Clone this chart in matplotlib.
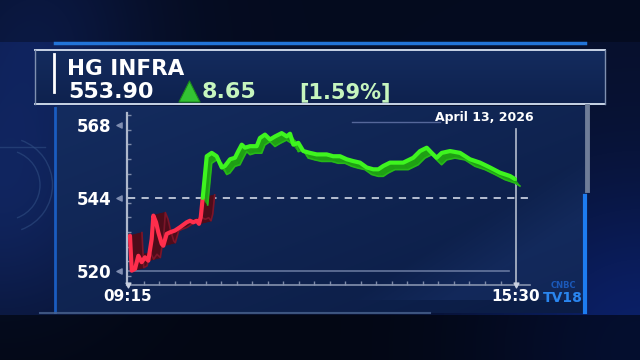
import numpy as np
import matplotlib
matplotlib.use('Agg')
import matplotlib.pyplot as plt
from matplotlib.patches import Polygon, Arc
from matplotlib.ticker import MultipleLocator

# price path: minutes after 09:15 and price
red_t = [1.9, 3.6, 6.8, 10.0, 13.2, 16.4, 19.6, 22.9, 24.5, 27.1, 29.3, 32.6, 34.1,
         37.4, 40.6, 45.4, 50.3, 56.7, 59.9, 63.1, 66.4, 68.6, 70.3, 72.2]
red_v = [531.6, 520.1, 520.7, 525.0, 522.9, 524.5, 523.4, 530.5, 538.2, 536.0, 532.7,
         528.9, 528.3, 532.2, 532.7, 533.3, 534.4, 536.0, 536.5, 536.0, 536.5, 535.5,
         537.7, 544.0]
green_t = [72.2, 76.1, 80.9, 85.7, 90.6, 93.7, 98.6, 103.4, 106.6, 109.9, 113.1, 117.9,
           124.4, 127.5, 132.4, 137.2, 142.1, 148.5, 153.4, 156.6, 159.8, 164.6, 169.4,
           175.9, 182.4, 192.0, 198.3, 204.9, 211.4, 217.7, 224.2, 230.7, 237.1, 241.9,
           246.7, 253.2, 266.0, 275.7, 282.2, 288.7, 293.5, 298.3, 303.2, 311.2, 320.9,
           330.5, 340.2, 349.9, 359.5, 369.2, 374.0]
green_v = [544.0, 557.7, 558.8, 557.7, 554.0, 554.5, 556.7, 557.2, 559.4, 561.5, 560.5,
           561.0, 561.0, 563.7, 564.8, 563.2, 564.2, 565.3, 564.2, 565.1, 561.5, 562.1,
           559.4, 558.8, 558.3, 558.3, 557.7, 557.7, 556.7, 556.1, 555.6, 554.0, 553.4,
           553.4, 554.5, 555.6, 555.6, 557.2, 559.4, 560.5, 558.8, 557.2, 558.8, 559.4,
           558.8, 556.7, 555.6, 554.0, 552.3, 551.2, 550.2]
prev_close = 544
y_ticks = [520, 544, 568]
x_ticks = [0, 375]
x_labels = ['09:15', '15:30']
name = 'HG INFRA'
last_price = '553.90'
change = '8.65'
change_pct = '[1.59%]'
date_label = 'April 13, 2026'

plt.rcParams['font.family'] = ['DejaVu Sans']
fig = plt.figure(figsize=(6.4, 3.6), dpi=100)

# ---- background (pixel coords) ----
H, W = 360, 640
yy, xx = np.mgrid[0:H, 0:W].astype(float)


def glow(cx, cy, r, col):
    d = np.exp(-((xx - cx) ** 2 + (yy - cy) ** 2) / (2 * r * r))
    return d[..., None] * np.array(col) / 255


img = np.empty((H, W, 3))
img[:] = np.array([7, 16, 44]) / 255
img += glow(0, 190, 100, (9, 20, 48))
img += glow(40, 10, 80, (6, 14, 38))
img += glow(640, 350, 120, (4, 16, 60))
img[yy < 42] *= 0.7
low = yy > 314
img[low] = img[low] * 0.45
# chart panel
pan = (xx >= 55) & (xx <= 586) & (yy >= 106) & (yy <= 312)
grad = (0.5 * (xx - 55) / 531 + 0.5 * (yy - 106) / 206)[..., None]
pcol = (np.array([20, 44, 95]) * (1 - grad) + np.array([11, 28, 68]) * grad) / 255
img[pan] = pcol[pan]
# soft diagonal light in lower right of the plot
diag = np.clip(((xx - 330) * 0.6 - (310 - yy)) / 60, 0, 1) * pan * (yy < 300)
img += diag[..., None] * np.array([6, 10, 18]) / 255
# title box
tb = (xx >= 35) & (xx <= 605) & (yy >= 50) & (yy <= 104)
tg = ((yy - 50) / 54)[..., None]
tcol = (np.array([20, 44, 94]) * (1 - tg) + np.array([14, 33, 78]) * tg) / 255
img[tb] = tcol[tb]
img = np.clip(img, 0, 1)

bg = fig.add_axes([0, 0, 1, 1])
bg.imshow(img, extent=(0, 640, 360, 0), aspect='auto')
bg.set_xlim(0, 640)
bg.set_ylim(360, 0)
bg.axis('off')

# frame decoration
bg.plot([55, 585], [43, 43], color='#2274d8', lw=2.5)
bg.plot([35, 605], [50, 50], color='#c9d4e6', lw=1.4)
bg.plot([35, 605], [104, 104], color='#c9d4e6', lw=1.4)
bg.plot([35, 35], [50, 104], color='#7f90b0', lw=1)
bg.plot([605, 605], [50, 104], color='#7f90b0', lw=1)
bg.plot([54, 54], [54, 92], color='white', lw=2)
bg.plot([55, 55], [108, 312], color='#1a5cc0', lw=2)
bg.plot([587, 587], [106, 190], color='#6f7d98', lw=3.5)
bg.plot([585, 585], [196, 312], color='#1d7cf0', lw=3)
bg.plot([40, 430], [313, 313], color='#4a6490', lw=1.5, alpha=0.8)
for r in (70, 95):
    bg.add_patch(Arc((5, 185), r, r, theta1=-70, theta2=70, color='#2f4d82', lw=1, alpha=0.6))
bg.plot([0, 45], [147, 147], color='#2f4d82', lw=1, alpha=0.6)

# header text
bg.text(67, 75, name, color='white', fontsize=15.5, fontweight='bold', va='baseline')
bg.text(68, 98, last_price, color='white', fontsize=16, fontweight='bold', va='baseline')
bg.scatter([189], [91], marker='^', s=230, color='#33c233', edgecolor='#1b8a1b', lw=0.8)
bg.text(202, 98, change, color='#c6f5be', fontsize=16, fontweight='bold', va='baseline')
bg.text(299, 98, change_pct, color='#c6f5be', fontsize=15, fontweight='bold', va='baseline')
bg.text(563, 285, 'CNBC', color='#1b58b8', fontsize=6, fontweight='bold', ha='center', va='center')
bg.text(563, 298, 'TV18', color='#2a86f0', fontsize=10, fontweight='bold', ha='center', va='center')

# ---- price chart ----
x0, x1 = -0.97, 388.5
y0, y1 = 515.4, 571.9
ax = fig.add_axes([127 / 640, 1 - 285 / 360, (530 - 127) / 640, (285 - 113) / 360])
ax.set_facecolor('none')
ax.set_xlim(x0, x1)
ax.set_ylim(y0, y1)
for s in ('top', 'right'):
    ax.spines[s].set_visible(False)
ax.spines['left'].set_color('#aeb8cc')
ax.spines['left'].set_linewidth(1.6)
ax.spines['bottom'].set_color('#8592ae')
ax.spines['bottom'].set_linewidth(1.2)

ax.set_yticks(y_ticks)
ax.set_yticklabels([str(v) for v in y_ticks])
ax.set_xticks(x_ticks)
ax.set_xticklabels(x_labels)
ax.tick_params(axis='y', length=0, pad=11, labelsize=12, labelcolor='white')
ax.tick_params(axis='x', length=0, pad=3, labelsize=11, labelcolor='white')
for lab in ax.get_xticklabels() + ax.get_yticklabels():
    lab.set_fontweight('bold')
ax.yaxis.set_minor_locator(MultipleLocator(4.8))
ax.xaxis.set_minor_locator(MultipleLocator(15))
ax.tick_params(which='minor', direction='in', length=3, color='#7d8aa8', width=1)

ax.plot([0, 368], [520, 520], color='#7b8bb0', lw=1.2, alpha=0.8)
ax.plot([0, 388], [prev_close, prev_close], color='#c3cbdc', lw=1.3, ls=(0, (4, 3.5)))
ax.scatter([-8.7] * 3, y_ticks, marker='<', s=14, color='#7f8db0', clip_on=False)
ax.plot([375, 375], [y0, 566.7], color='#b3bccd', lw=1.2)
ax.scatter([375, 0], [y0, y0], marker='v', s=12, color='#c8d0e0', clip_on=False, zorder=5)
ax.plot([216.5, 301.5], [569, 569], color='#55679a', lw=1)
ax.text(344, 570.3, date_label, color='white', fontsize=9, fontweight='bold',
        ha='center', va='center')


def ribbon(t, v, dx, dy, face, edge, line):
    for i in range(len(t) - 1):
        quad = [(t[i], v[i]), (t[i + 1], v[i + 1]),
                (t[i + 1] + dx, v[i + 1] + dy), (t[i] + dx, v[i] + dy)]
        ax.add_patch(Polygon(quad, closed=True, fc=face, ec=face, lw=0.6, zorder=3))
    ax.plot([a + dx for a in t], [b + dy for b in v], color=edge, lw=1.2, zorder=3)
    ax.plot(t, v, color=line, lw=3, zorder=4, solid_capstyle='round')


ribbon(red_t, red_v, 11.6, 1.0, '#4e0c1a', '#7c1529', '#ff2e4c')
ribbon(green_t, green_v, 4.8, -2.3, '#1fa014', '#26b818', '#3ef51f')

fig.savefig('out.png', dpi=100)
